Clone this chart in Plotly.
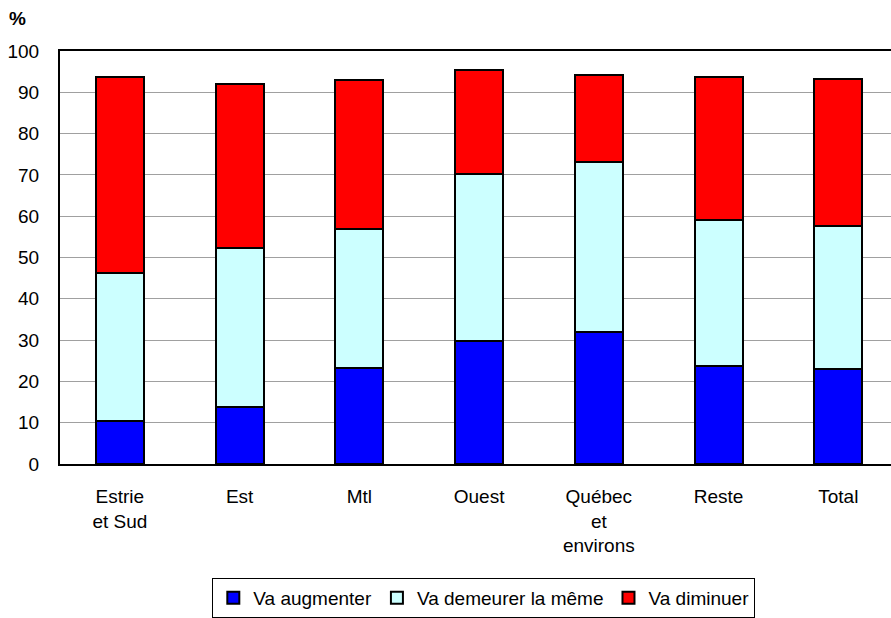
import plotly.graph_objects as go

regions = ["Estrie<br>et Sud", "Est", "Mtl", "Ouest", "Québec<br>et<br>environs", "Reste", "Total"]
augmenter = [10.3, 13.9, 23.2, 29.9, 31.9, 23.7, 23.1]
demeurer = [36.0, 38.4, 33.7, 40.3, 41.3, 35.3, 34.5]
diminuer = [47.5, 39.8, 36.1, 25.2, 21.1, 34.8, 35.6]

series = [
    ("Va augmenter", augmenter, "#0000FF"),
    ("Va demeurer la même", demeurer, "#CCFFFF"),
    ("Va diminuer", diminuer, "#FF0000"),
]

fig = go.Figure()
for name, vals, color in series:
    fig.add_trace(go.Bar(
        x=regions, y=vals, name=name, width=0.4,
        marker=dict(color=color, line=dict(color="black", width=2)),
    ))

fig.update_layout(
    barmode="stack",
    width=891, height=618,
    margin=dict(l=60, r=0, t=51, b=151),
    plot_bgcolor="white", paper_bgcolor="white",
    font=dict(family="Liberation Sans, Arial, sans-serif", size=19, color="black"),
    showlegend=True,
    legend=dict(
        orientation="h", x=0.51, xanchor="center", y=-0.276, yanchor="top",
        bordercolor="black", borderwidth=1, font=dict(size=19),
        traceorder="normal", itemwidth=30, tracegroupgap=0,
    ),
    xaxis=dict(
        range=[-0.5, 6.44], showline=True, linecolor="black", linewidth=2,
        mirror=True, ticks="", ticklabelstandoff=14, showgrid=False,
    ),
    yaxis=dict(
        range=[0, 100], dtick=10, showline=True, linecolor="black", linewidth=2,
        showgrid=True, gridcolor="#a0a0a0", gridwidth=1, ticks="",
        ticklabelstandoff=15, zeroline=False,
    ),
    annotations=[dict(
        text="<b>%</b>", x=(17 - 60) / 831, y=(467 - 18) / 416,
        xref="paper", yref="paper", xanchor="center", yanchor="middle",
        showarrow=False, font=dict(size=19),
    )],
)

fig.write_html("out.html", config={"displayModeBar": False},
               post_script="document.body.style.margin='0';")
